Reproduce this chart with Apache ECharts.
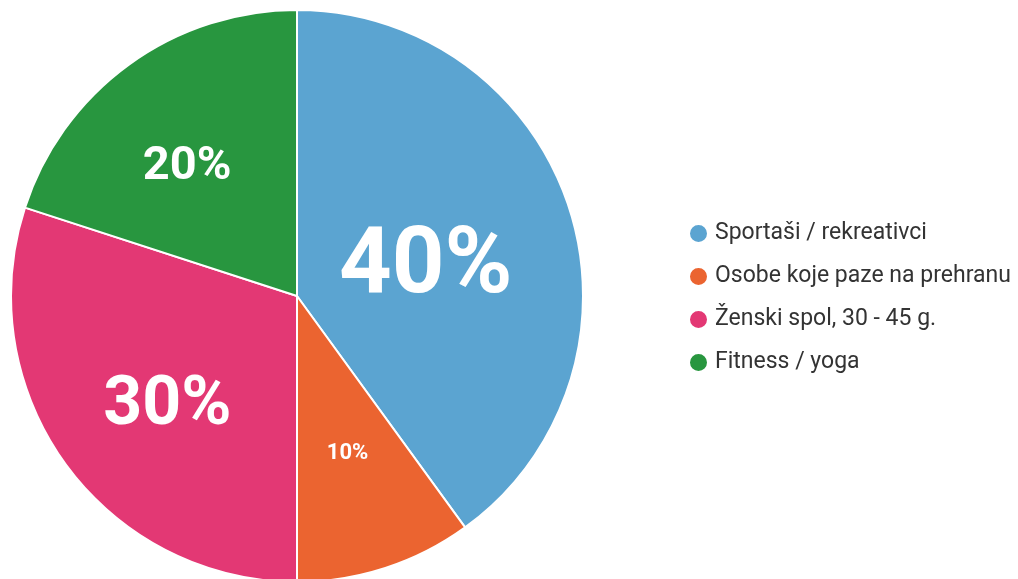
<!DOCTYPE html>
<html>
<head>
<meta charset="utf-8">
<title>Pie</title>
<script src="https://cdn.jsdelivr.net/npm/echarts@6/dist/echarts.min.js"></script>
<style>
  html, body { margin: 0; padding: 0; background: #fff; }
  #chart { width: 1018px; height: 579px; }
</style>
</head>
<body>
<div id="chart"></div>
<script>
// Chart data
const categories = ['Sportaši / rekreativci', 'Osobe koje paze na prehranu', 'Ženski spol, 30 - 45 g.', 'Fitness / yoga'];
const values = [40, 10, 30, 20];
const colors = ['#5ba4d1', '#eb6430', '#e33874', '#28963f'];

// Label size per slice (bigger slice -> bigger text)
const labelSizes = [92, 22, 68, 47];
// Pixel nudge of each percent label from its default inside spot
const labelShift = [[-33, 26], [-2, -4], [8, 11], [-10, 9]];

const CX = 297, CY = 296, R = 286;

const chart = echarts.init(document.getElementById('chart'), null, { renderer: 'canvas' });

const pieData = categories.map((name, i) => ({
    name: name,
    value: values[i],
    itemStyle: { color: colors[i] }
}));

// One transparent ring per label so each label can be nudged on its own
const labelSeries = categories.map((_, k) => ({
    type: 'pie',
    center: [CX + labelShift[k][0], CY + labelShift[k][1]],
    radius: [48, R],
    startAngle: 90,
    clockwise: true,
    silent: true,
    legendHoverLink: false,
    itemStyle: { color: 'rgba(0,0,0,0)' },
    label: { show: false },
    labelLine: { show: false },
    emphasis: { disabled: true },
    data: categories.map((name, i) => ({
        name: name,
        value: values[i],
        label: i === k ? {
            show: true,
            position: 'inside',
            formatter: '{c}%',
            color: '#fff',
            fontFamily: 'Roboto',
            fontWeight: 'bold',
            fontSize: labelSizes[i]
        } : { show: false }
    }))
}));

chart.setOption({
    animation: false,
    legend: {
        orient: 'vertical',
        left: 683,
        top: 217,
        icon: 'circle',
        itemWidth: 19,
        itemHeight: 19,
        itemGap: 20,
        textStyle: {
            fontFamily: 'Roboto',
            fontSize: 23,
            lineHeight: 23,
            color: '#333',
            padding: [0, 0, 0, 2]
        },
        data: categories
    },
    series: [
        {
            type: 'pie',
            center: [CX, CY],
            radius: [0, R],
            startAngle: 90,
            clockwise: true,
            itemStyle: { borderColor: '#fff', borderWidth: 2 },
            label: { show: false },
            labelLine: { show: false },
            emphasis: { disabled: true },
            data: pieData
        }
    ].concat(labelSeries)
});
</script>
</body>
</html>
